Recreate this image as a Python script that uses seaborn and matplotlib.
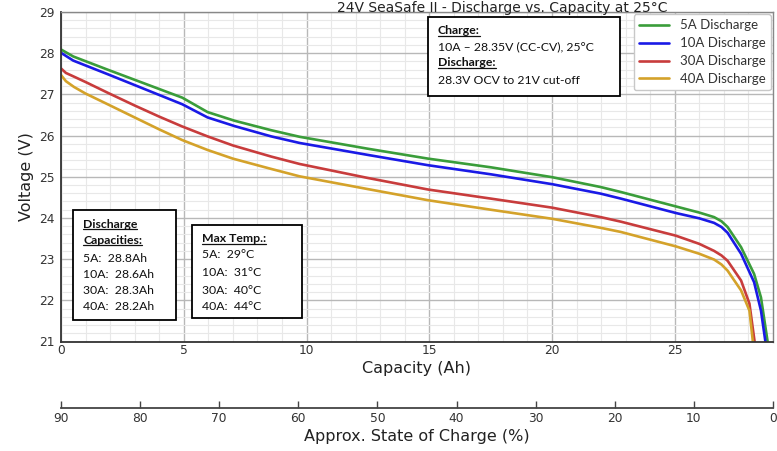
import numpy as np
import pandas as pd
import matplotlib
matplotlib.use("Agg")
import matplotlib.pyplot as plt
import matplotlib.patches as patches
from matplotlib.lines import Line2D
from matplotlib.ticker import MultipleLocator
import seaborn as sns

# ---- data ----
series_names = ["5A Discharge", "10A Discharge", "30A Discharge", "40A Discharge"]

cap_5a = [0, 0.5, 1.9, 4.94, 5.97, 7.07, 8.56, 9.72, 12.5, 14.95, 17.5, 20.0,
          21.98, 22.8, 25.04, 26.0, 26.6, 26.9, 27.15, 27.7, 28.23, 28.51, 28.78]
volt_5a = [28.09, 27.92, 27.6, 26.92, 26.57, 26.36, 26.13, 25.97, 25.68, 25.44, 25.23, 24.99,
           24.75, 24.63, 24.28, 24.13, 24.02, 23.92, 23.78, 23.29, 22.64, 22.07, 21.0]

cap_10a = [0, 0.5, 1.9, 4.94, 5.97, 7.07, 8.56, 9.72, 12.5, 14.95, 17.5, 20.0,
           21.98, 22.8, 25.04, 26.0, 26.6, 26.9, 27.15, 27.7, 28.23, 28.51, 28.69]
volt_10a = [28.01, 27.82, 27.49, 26.76, 26.44, 26.23, 25.98, 25.82, 25.53, 25.28, 25.06, 24.82,
            24.59, 24.47, 24.12, 23.99, 23.88, 23.78, 23.64, 23.13, 22.44, 21.75, 21.0]

cap_30a = [0, 0.2, 0.53, 1.0, 1.9, 3.0, 4.0, 4.94, 5.97, 7.0, 8.56, 9.72, 12.5, 14.95, 17.5, 20.0,
           21.98, 22.8, 25.04, 26.0, 26.6, 26.9, 27.15, 27.7, 28.04, 28.25]
volt_30a = [27.63, 27.52, 27.43, 27.3, 27.04, 26.73, 26.46, 26.22, 25.98, 25.76, 25.49, 25.31, 24.97,
            24.69, 24.47, 24.25, 24.02, 23.91, 23.57, 23.37, 23.2, 23.09, 22.96, 22.48, 21.92, 21.0]

cap_40a = [0, 0.2, 0.53, 1.0, 1.9, 3.0, 4.0, 4.94, 5.97, 7.0, 8.56, 9.72, 12.5, 14.95, 17.5, 20.0,
           21.98, 22.8, 25.04, 26.0, 26.6, 26.9, 27.15, 27.7, 28.04, 28.18]
volt_40a = [27.47, 27.32, 27.18, 27.02, 26.76, 26.44, 26.15, 25.89, 25.65, 25.44, 25.19, 25.01, 24.7,
            24.43, 24.2, 23.98, 23.76, 23.66, 23.31, 23.13, 22.99, 22.87, 22.72, 22.24, 21.75, 21.0]

soc_ticks = [90, 80, 70, 60, 50, 40, 30, 20, 10, 0]
cap_max = 29.0

title_text = "24V SeaSafe II - Discharge vs. Capacity at 25\u00b0C"
charge_lines = ["Charge:", "10A \u2013 28.35V (CC-CV), 25\u00b0C", "Discharge:", "28.3V OCV to 21V cut-off"]
capacity_lines = ["Discharge", "Capacities:", "5A:  28.8Ah", "10A:  28.6Ah", "30A:  28.3Ah", "40A:  28.2Ah"]
temp_lines = ["Max Temp.:", "5A:  29\u00b0C", "10A:  31\u00b0C", "30A:  40\u00b0C", "40A:  44\u00b0C"]

colors = ["#3a9d3a", "#1a1ae6", "#c83c3c", "#d4a22a"]

frames = []
for name, c, v in zip(series_names,
                      [cap_5a, cap_10a, cap_30a, cap_40a],
                      [volt_5a, volt_10a, volt_30a, volt_40a]):
    frames.append(pd.DataFrame({"Capacity": c, "Voltage": v, "Series": name}))
df = pd.concat(frames, ignore_index=True)

# ---- figure ----
sns.set_style("white")
plt.rcParams["font.family"] = ["DejaVu Sans"]

W, H = 777, 451
fig = plt.figure(figsize=(W / 100, H / 100), dpi=100)
fig.patch.set_facecolor("white")

def fx(px):
    return px / W

def fy(py):
    return 1 - py / H

ax = fig.add_axes([fx(61), fy(341.5), fx(773) - fx(61), fy(12) - fy(341.5)])

sns.lineplot(data=df, x="Capacity", y="Voltage", hue="Series", palette=colors,
             estimator=None, sort=False, linewidth=1.9, ax=ax, legend=False)
for ln in ax.get_lines():
    ln.set_solid_joinstyle("round")

ax.set_xlim(0, cap_max)
ax.set_ylim(21, 29)
ax.xaxis.set_major_locator(MultipleLocator(5))
ax.xaxis.set_minor_locator(MultipleLocator(1))
ax.yaxis.set_major_locator(MultipleLocator(1))
ax.yaxis.set_minor_locator(MultipleLocator(0.2))
ax.grid(which="major", color="#b8b8b8", linewidth=1.0)
ax.grid(which="minor", color="#e8e8e8", linewidth=0.8)
ax.set_axisbelow(True)
ax.tick_params(which="major", direction="inout", length=5, width=1, color="#444444",
               labelsize=8.8, labelcolor="#333333", pad=2)
ax.tick_params(which="minor", direction="inout", length=3, width=0.8, color="#666666")
ax.tick_params(axis="x", which="both", direction="in")
for side in ["left", "bottom"]:
    ax.spines[side].set_color("#333333")
    ax.spines[side].set_linewidth(1.3)
for side in ["top", "right"]:
    ax.spines[side].set_color("#888888")
    ax.spines[side].set_linewidth(1.0)

ax.set_xlabel("Capacity (Ah)", fontsize=11.5, color="#222222", labelpad=3)
ax.set_ylabel("Voltage (V)", fontsize=11.5, color="#222222", labelpad=4)

# state of charge axis underneath
def cap_to_soc(x):
    return 90 - np.asarray(x) * 90 / cap_max

def soc_to_cap(s):
    return (90 - np.asarray(s)) * cap_max / 90

sec = ax.secondary_xaxis(-0.201, functions=(cap_to_soc, soc_to_cap))
sec.set_xticks(soc_ticks)
sec.tick_params(direction="in", length=5, width=1, color="#444444",
                labelsize=8.8, labelcolor="#333333", pad=3)
sec.spines["bottom"].set_color("#444444")
sec.spines["bottom"].set_linewidth(1.3)
sec.set_xlabel("Approx. State of Charge (%)", fontsize=11.5, color="#222222", labelpad=3)

# title squeezed into the strip above the axes
fig.text(fx(502), fy(1), title_text, ha="center", va="top", fontsize=10, color="#222222")

# legend
handles = [Line2D([0], [0], color=c, lw=1.9) for c in colors]
leg = ax.legend(handles, series_names, loc="upper right", bbox_to_anchor=(1.0, 1.0),
                frameon=True, fancybox=True, framealpha=1, edgecolor="#c8c8c8",
                prop={"family": "Lato", "size": 9.5}, handlelength=2.3,
                handletextpad=0.8, borderaxespad=0.15, labelspacing=0.45,
                borderpad=0.4)
for t in leg.get_texts():
    t.set_color("#333333")

# annotation boxes
box_font = {"family": "Lato", "size": 8.8, "color": "#111111"}

def add_box(x0, y0, x1, y1, tx, ys, lines, heads):
    rect = patches.Rectangle((fx(x0), fy(y1)), fx(x1) - fx(x0), fy(y0) - fy(y1),
                             transform=fig.transFigure, facecolor="white",
                             edgecolor="black", linewidth=1.3, zorder=5)
    fig.add_artist(rect)
    texts = []
    for i, (line, y) in enumerate(zip(lines, ys)):
        t = fig.text(fx(tx), fy(y), line, ha="left", va="center", zorder=6,
                     fontweight="bold" if i in heads else "normal", **box_font)
        texts.append((t, i in heads))
    return texts

all_texts = []
all_texts += add_box(428, 17, 620, 96, 438, [30.5, 46.5, 63, 81], charge_lines, [0, 2])
all_texts += add_box(73, 210, 176, 320, 83, [224, 240.5, 258, 274, 290.5, 307], capacity_lines, [0, 1])
all_texts += add_box(192, 225, 302, 318, 202, [239, 255, 272, 290, 307], temp_lines, [0])

# underline the headings
fig.canvas.draw()
r = fig.canvas.get_renderer()
for t, head in all_texts:
    if head:
        bb = t.get_window_extent(r)
        yline = bb.y0 + 0.5
        fig.add_artist(Line2D([bb.x0 / W, bb.x1 / W], [yline / H, yline / H],
                              transform=fig.transFigure, color="#111111",
                              linewidth=0.9, zorder=6))

fig.savefig("out.png", dpi=100, facecolor="white")
